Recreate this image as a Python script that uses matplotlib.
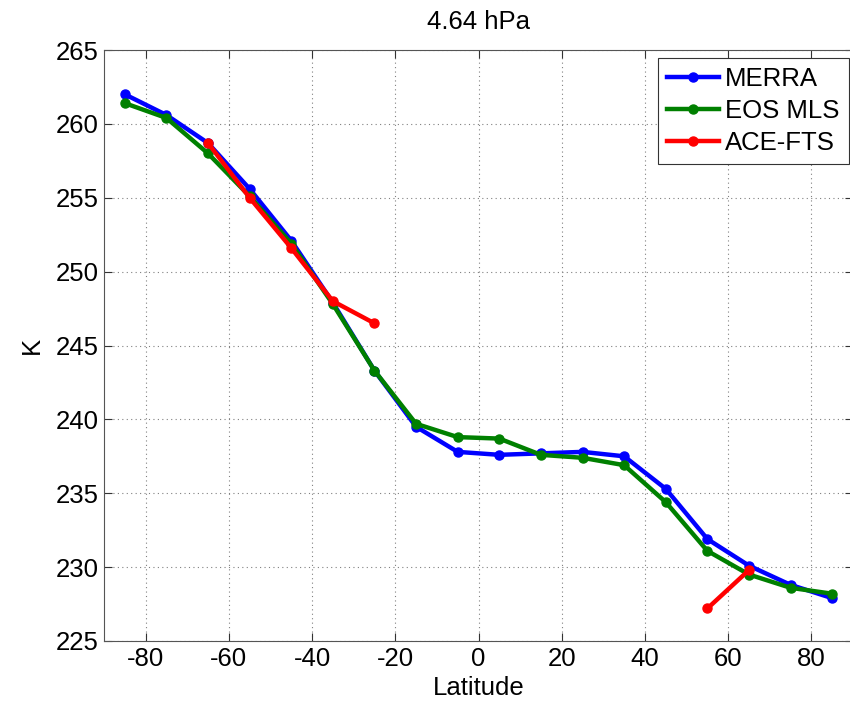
import matplotlib
matplotlib.use("Agg")
import matplotlib.pyplot as plt

# =========================================
# Data
# =========================================

lat = [-85, -75, -65, -55, -45, -35, -25, -15, -5, 5, 15, 25, 35, 45, 55, 65, 75, 85]

merra = [262.0, 260.6, 258.7, 255.6, 252.1, 247.9, 243.3, 239.5, 237.8, 237.6,
         237.7, 237.8, 237.5, 235.3, 231.9, 230.1, 228.8, 227.9]

eos_mls = [261.4, 260.4, 258.0, 255.1, 251.9, 247.8, 243.3, 239.7, 238.8, 238.7,
           237.6, 237.4, 236.9, 234.4, 231.1, 229.5, 228.6, 228.2]

ace_lat_south = [-65, -55, -45, -35, -25]
ace_south = [258.7, 255.0, 251.6, 248.0, 246.5]
ace_lat_north = [55, 65]
ace_north = [227.2, 229.8]

FONT = ["Liberation Sans", "DejaVu Sans"]
plt.rcParams["font.family"] = FONT
plt.rcParams["axes.unicode_minus"] = False

FS = 18.5


def main() -> None:
    fig = plt.figure(figsize=(8.5, 7.01), dpi=100)
    ax = fig.add_axes([104 / 850, 1 - 641 / 701, 749 / 850, 591 / 701])

    style = dict(linewidth=3.2, marker="o", markersize=6.5)
    ax.plot(lat, merra, color="#0000ff", label="MERRA", **style)
    ax.plot(lat, eos_mls, color="#008000", label="EOS MLS", **style)
    ax.plot(ace_lat_south, ace_south, color="#ff0000", label="ACE-FTS", **style)
    ax.plot(ace_lat_north, ace_north, color="#ff0000", **style)

    ax.set_xlim(-90, 90)
    ax.set_ylim(225, 265)
    ax.set_xticks(range(-80, 81, 20))
    ax.set_yticks(range(225, 266, 5))

    ax.grid(True, linestyle=(0, (1, 3)), color="#808080", linewidth=0.8)
    ax.tick_params(direction="in", top=True, right=True, labelsize=FS,
                   length=6, width=0.8, color="#333333", pad=4)
    for spine in ax.spines.values():
        spine.set_color("#555555")
        spine.set_linewidth(0.8)

    ax.set_xlabel("Latitude", fontsize=FS, labelpad=4)
    ax.set_ylabel("K", fontsize=FS, labelpad=8)
    ax.set_title("4.64 hPa", fontsize=FS, pad=15)

    leg = ax.legend(loc="upper right", fontsize=FS, fancybox=False,
                    framealpha=1, edgecolor="#333333", borderpad=0.35,
                    handlelength=2.0, handletextpad=0.25, labelspacing=0.32,
                    borderaxespad=0, bbox_to_anchor=(994 / 1000, 1 - 8 / 591))
    leg.get_frame().set_linewidth(0.8)

    fig.savefig("out.png", dpi=100)


if __name__ == "__main__":
    main()
